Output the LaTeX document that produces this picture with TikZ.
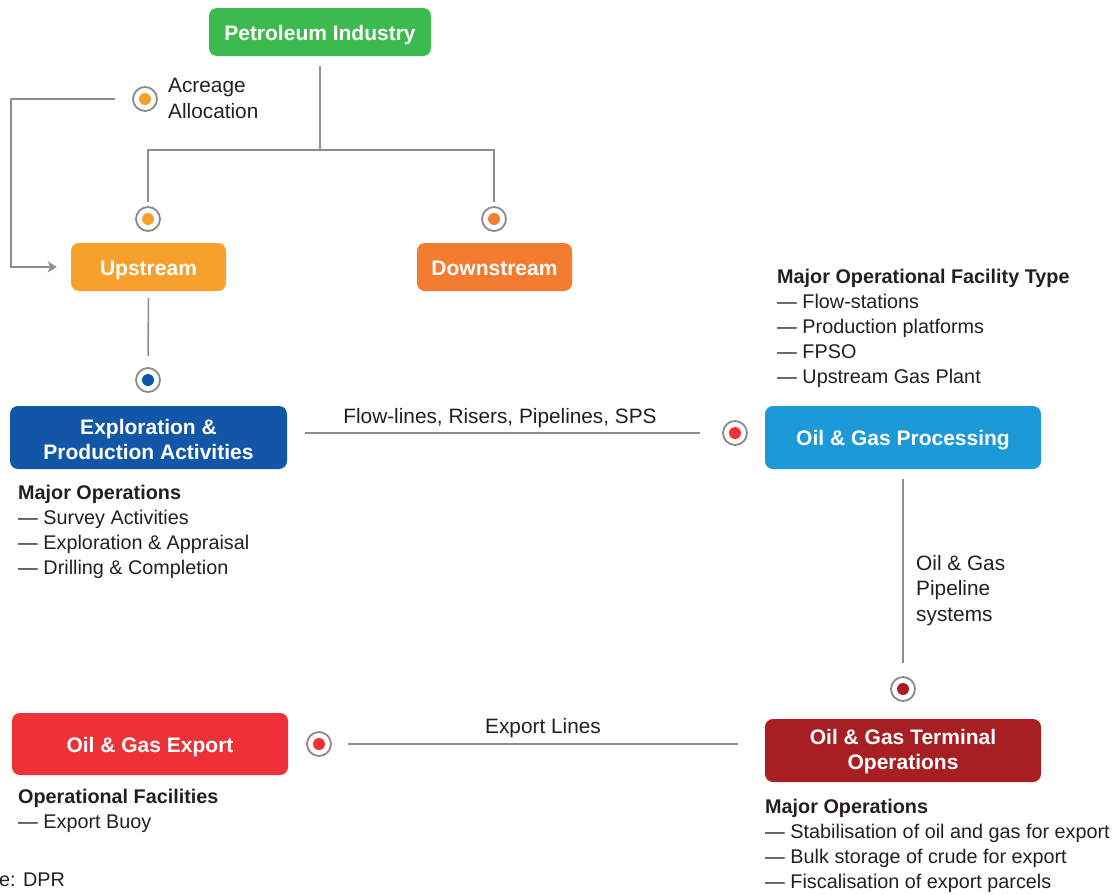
\documentclass[tikz,border=0pt]{standalone}
\usepackage{fontspec}
\setmainfont{Liberation Sans}
\usetikzlibrary{arrows.meta}

\definecolor{cGreen}{HTML}{3DBA4E}
\definecolor{cUp}{HTML}{F7A02C}
\definecolor{cDown}{HTML}{F47C30}
\definecolor{cEP}{HTML}{1256A7}
\definecolor{cProc}{HTML}{1C9AD8}
\definecolor{cTerm}{HTML}{A71E23}
\definecolor{cExp}{HTML}{EE3136}
\definecolor{lineGray}{HTML}{8E8E8E}
\definecolor{ringGray}{HTML}{8A8A8A}
\definecolor{txt}{HTML}{231F20}

\begin{document}
\begin{tikzpicture}[x=1pt, y=-1pt,
  font=\fontsize{19.8}{25}\selectfont,
  box/.style={rounded corners=8pt, inner sep=0pt, minimum height=48pt},
  boxtext/.style={text=white, align=center, inner sep=0pt, yshift=-3pt,
    font=\bfseries\fontsize{21}{25.5}\selectfont},
  onetext/.style={boxtext, text height=15.2pt, text depth=4.4pt},
  conn/.style={draw=lineGray, line width=1.6pt},
  lbl/.style={text=txt, inner sep=0pt, align=left, anchor=north west},
  clbl/.style={lbl, font=\fontsize{20.8}{25.5}\selectfont},
  dot/.style={circle, draw=ringGray, line width=1.8pt, fill=white,
    minimum size=24pt, inner sep=0pt, outer sep=0pt,
    path picture={\fill[#1] (path picture bounding box.center) circle (6pt);}}
]
\useasboundingbox (0,0) rectangle (1115,894);

% main boxes, each with its caption set as a centred label
\node[box, fill=cGreen, minimum width=222pt,
  label={[onetext]center:Petroleum Industry}] (pet) at (320,32) {};
\node[box, fill=cUp, minimum width=155pt,
  label={[onetext]center:Upstream}] (up) at (148.5,267) {};
\node[box, fill=cDown, minimum width=155pt,
  label={[onetext]center:Downstream}] (down) at (494.5,267) {};
\node[box, fill=cEP, minimum width=277pt, minimum height=63pt,
  label={[boxtext, yshift=1pt]center:{Exploration \&\\Production Activities}}] (ep) at (148.5,437.5) {};
\node[box, fill=cProc, minimum width=276pt, minimum height=63pt,
  label={[onetext]center:{Oil \& Gas Processing}}] (proc) at (903,437.5) {};
\node[box, fill=cTerm, minimum width=276pt, minimum height=63pt,
  label={[boxtext, yshift=2pt]center:{Oil \& Gas Terminal\\Operations}}] (term) at (903,750.5) {};
\node[box, fill=cExp, minimum width=276pt, minimum height=62pt,
  label={[onetext]center:{Oil \& Gas Export}}] (exp) at (150,744) {};

% ring markers
\node[dot=cUp] (ca) at (145,99) {};
\node[dot=cUp] (cu) at (148,219) {};
\node[dot=cDown] (cd) at (494,219) {};
\node[dot=cEP] (ce) at (148,380) {};
\node[dot=cExp] (cp) at (735,433) {};
\node[dot=cTerm] (ct) at (903,689) {};
\node[dot=cExp] (cx) at (319,744) {};

% connectors
\coordinate (jt) at (320,150);
\coordinate (bend) at (11,99);
\draw[conn] ([yshift=-10pt]pet.south) -- (jt);
\draw[conn, shorten <=5pt, shorten >=5pt] (cu.north) -- (cu |- jt) -- (cd |- jt) -- (cd.north);
\draw[conn, shorten <=18pt, shorten >=14pt, -{Stealth[length=9pt,width=11pt,inset=2.5pt]}]
  (ca.west) -- (bend) |- (up.west);
\draw[conn, shorten <=7pt, shorten >=12pt] (up.south) -- (ce.north);
\draw[conn, shorten <=18pt, shorten >=23pt] (ep.east |- cp) -- (cp.west);
\draw[conn, shorten <=10pt, shorten >=14pt] (proc.south) -- (ct.north);
\draw[conn, shorten <=17pt, shorten >=27pt] (cx.east) -- (cx -| term.west);

% connector labels
\node[clbl] (acrlbl) at (168,78) {Acreage\\Allocation};
\node[clbl, anchor=center] (flowlbl) at (500,418) {Flow-lines, Risers, Pipelines, SPS};
\node[clbl] (pipelbl) at (916,555) {Oil \& Gas\\Pipeline\\systems};
\node[clbl, anchor=center] (explbl) at (543,728) {Export Lines};

% descriptive lists
\node[lbl] (facil) at (777,268.5) {\textbf{Major Operational Facility Type}\\— Flow-stations\\— Production platforms\\— FPSO\\— Upstream Gas Plant};
\node[lbl] (epops) at (18,485) {\textbf{Major Operations}\\— Survey Activities\\— Exploration \& Appraisal\\— Drilling \& Completion};
\node[lbl] (expops) at (18,789) {\textbf{Operational Facilities}\\— Export Buoy};
\node[lbl] (termops) at (765,798.5) {\textbf{Major Operations}\\— Stabilisation of oil and gas for export\\— Bulk storage of crude for export\\— Fiscalisation of export parcels};
\node[lbl] (src) at (-1,872.5) {e: DPR};
\end{tikzpicture}
\end{document}
